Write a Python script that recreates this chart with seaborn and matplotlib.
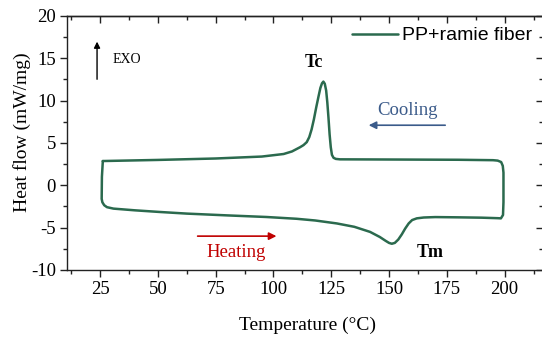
import matplotlib
matplotlib.use("Agg")
import matplotlib.pyplot as plt
from matplotlib.ticker import MultipleLocator
import seaborn as sns
import pandas as pd

# DSC loop: heating (lower branch, left->right), then cooling (upper branch, right->left)
temperature = [26.2, 25.8, 25.7, 26.0, 26.8, 28.0, 30.8, 40.0, 51.0, 62.6, 80.0, 97.0,
               110.0, 118.0, 127.4, 135.0, 141.8, 146.0, 148.5, 150.0, 151.2, 152.5,
               154.0, 155.5, 157.0, 158.5, 160.0, 162.0, 165.0, 170.0, 180.0, 190.0,
               197.0, 198.4, 199.3, 199.5, 199.5, 199.2, 198.5, 197.0, 195.0, 180.0,
               160.0, 140.0, 128.8, 127.0, 126.0, 125.3, 124.8, 124.3, 123.8, 123.3,
               122.8, 122.2, 121.6, 121.0, 120.3, 119.5, 118.5, 117.5, 116.5, 115.5,
               114.4, 113.0, 111.5, 108.0, 104.4, 95.0, 75.0, 50.0, 26.2]
heat_flow = [2.87, 1.0, -1.6, -2.0, -2.35, -2.58, -2.75, -2.95, -3.15, -3.34, -3.55, -3.74,
             -3.95, -4.15, -4.5, -4.9, -5.5, -6.1, -6.55, -6.8, -6.9, -6.8,
             -6.4, -5.8, -5.1, -4.5, -4.1, -3.9, -3.8, -3.75, -3.78, -3.82,
             -3.88, -3.9, -3.5, -2.0, 1.5, 2.3, 2.75, 2.92, 2.97, 3.02,
             3.04, 3.06, 3.07, 3.12, 3.25, 3.6, 4.5, 6.0, 8.0, 9.8,
             11.2, 12.0, 12.25, 12.05, 11.5, 10.5, 9.2, 7.8, 6.6, 5.7,
             5.1, 4.75, 4.5, 4.0, 3.7, 3.4, 3.17, 3.0, 2.87]
series_name = "PP+ramie fiber"

x_ticks = [25, 50, 75, 100, 125, 150, 175, 200]
y_ticks = [-10, -5, 0, 5, 10, 15, 20]

df = pd.DataFrame({"T": temperature, "HF": heat_flow, "s": series_name})

sns.set_style("ticks")
plt.rcParams["font.family"] = ["Liberation Serif", "DejaVu Serif"]
plt.rcParams["axes.unicode_minus"] = False
plt.rcParams["text.color"] = "black"
plt.rcParams["axes.labelcolor"] = "black"
plt.rcParams["xtick.color"] = "black"
plt.rcParams["ytick.color"] = "black"

fig = plt.figure(figsize=(5.42, 3.41), dpi=100)
ax = fig.add_axes([67 / 542, 1 - 270 / 341, (543 - 67) / 542, 254 / 341])

line_color = "#2b6a4e"
sns.lineplot(data=df, x="T", y="HF", hue="s", palette=[line_color], sort=False,
             estimator=None, lw=1.8, ax=ax)

ax.set_xlim(10.7, 216.6)
ax.set_ylim(-10, 20)
ax.set_xticks(x_ticks)
ax.set_yticks(y_ticks)
ax.xaxis.set_minor_locator(MultipleLocator(12.5))
ax.yaxis.set_minor_locator(MultipleLocator(2.5))
tick_col = "#222222"
ax.tick_params(axis="both", which="major", labelsize=13.5, length=5, width=1,
               color=tick_col, labelcolor="black", direction="out", pad=3)
ax.tick_params(axis="both", which="minor", length=3, width=1, color=tick_col,
               direction="out")
for sp in ax.spines.values():
    sp.set_linewidth(1.0)
    sp.set_color(tick_col)

# mirrored inward ticks on top and right
secx = ax.secondary_xaxis("top")
secx.set_xticks(x_ticks)
secx.xaxis.set_minor_locator(MultipleLocator(12.5))
secx.tick_params(which="major", direction="in", length=5, width=1, color=tick_col,
                 labeltop=False)
secx.tick_params(which="minor", direction="in", length=3, width=1, color=tick_col)
secx.spines["top"].set_linewidth(1.0)
secx.spines["top"].set_color(tick_col)
secy = ax.secondary_yaxis("right")
secy.set_yticks(y_ticks)
secy.yaxis.set_minor_locator(MultipleLocator(2.5))
secy.tick_params(which="major", direction="in", length=5, width=1, color=tick_col,
                 labelright=False)
secy.tick_params(which="minor", direction="in", length=3, width=1, color=tick_col)

ax.set_xlabel("Temperature (°C)", fontsize=14, va="center", color="black")
ax.set_ylabel("Heat flow (mW/mg)", fontsize=14, va="center", color="black")
ax.xaxis.set_label_coords(0.505, -0.2165)
ax.yaxis.set_label_coords(-0.0945, 0.541)

leg = ax.legend(loc="upper right", bbox_to_anchor=(1.0, 1.0), frameon=False,
                prop={"family": "Liberation Sans", "size": 14}, handlelength=2.4,
                handletextpad=0.2, borderaxespad=0.15)
for h in leg.get_lines():
    h.set_linewidth(1.8)
for t in leg.get_texts():
    t.set_color("black")

# annotations
ax.annotate("", xy=(23.7, 17.3), xytext=(23.7, 12.2),
            arrowprops=dict(arrowstyle="-|>", color="black", lw=1.0, mutation_scale=9))
ax.text(30.2, 14.9, "EXO", fontsize=10, va="center", ha="left", color="black")
ax.text(117.5, 14.5, "Tc", fontsize=13, fontweight="bold", va="center", ha="center",
        color="black")
ax.text(158, 8.85, "Cooling", fontsize=13.5, color="#3b5b8a", va="center", ha="center")
ax.annotate("", xy=(140.0, 7.1), xytext=(175.5, 7.1),
            arrowprops=dict(arrowstyle="-|>", color="#3b5b8a", lw=1.2, mutation_scale=11))
ax.text(84, -7.9, "Heating", fontsize=13.5, color="#c00000", va="center", ha="center")
ax.annotate("", xy=(102.5, -6.0), xytext=(66.0, -6.0),
            arrowprops=dict(arrowstyle="-|>", color="#c00000", lw=1.2, mutation_scale=11))
ax.text(167.7, -7.9, "Tm", fontsize=13, fontweight="bold", va="center", ha="center",
        color="black")

fig.savefig("out.png", dpi=100)
